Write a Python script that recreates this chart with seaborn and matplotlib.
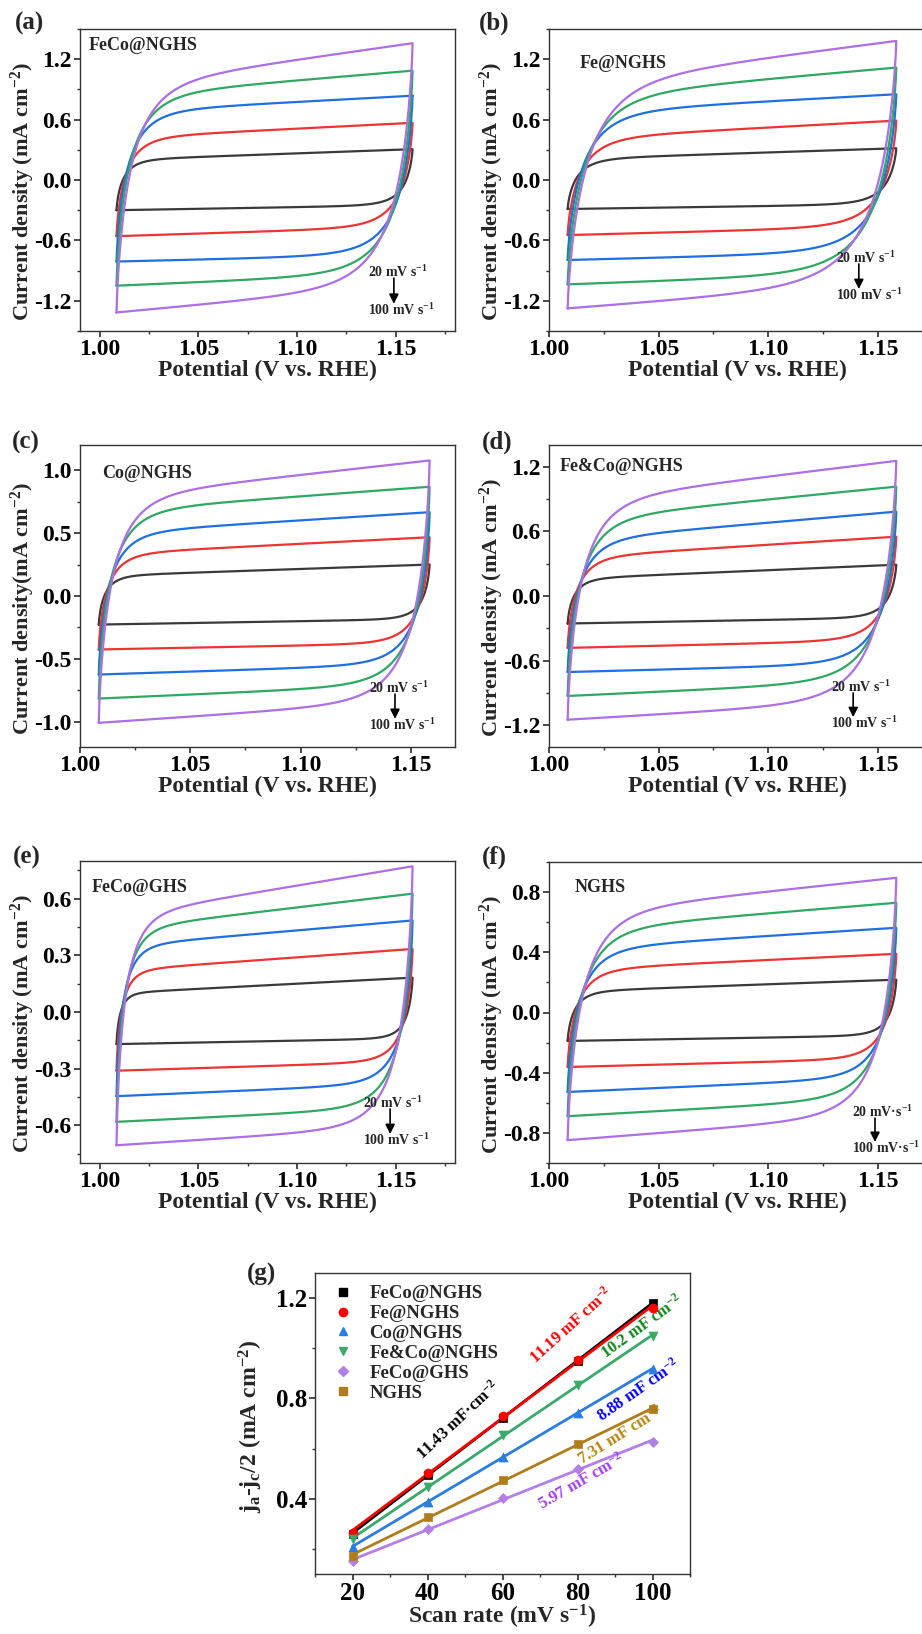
import numpy as np
import pandas as pd
import matplotlib
matplotlib.use("Agg")
import matplotlib.pyplot as plt
from matplotlib.ticker import MultipleLocator, FormatStrFormatter
from matplotlib.lines import Line2D
import seaborn as sns

# ---------------------------------------------------------------- data
scan_rates = [20, 40, 60, 80, 100]          # mV s-1
cv_colors = ["#3a3a3a", "#ee3333", "#1f6fe0", "#2ea862", "#ad6ee6"]

# potential window of the CV sweeps (V vs. RHE)
E_LO, E_HI = 1.0085, 1.1585

# anodic / cathodic double-layer currents (mA cm-2) at the two ends of the
# window, plus the relaxation widths (V) of the forward / reverse sweep at 100 mV s-1
a_ox_lo = [0.20, 0.42, 0.68, 0.84, 0.94]
a_ox_hi = [0.306, 0.568, 0.837, 1.086, 1.359]
a_red_lo = [-0.30, -0.558, -0.81, -1.05, -1.316]
a_red_hi = [-0.25, -0.465, -0.74, -0.926, -1.046]
a_relax = (0.0075, 0.0090)

b_ox_lo = [0.209, 0.414, 0.673, 0.83, 0.96]
b_ox_hi = [0.315, 0.59, 0.852, 1.117, 1.382]
b_red_lo = [-0.288, -0.547, -0.795, -1.037, -1.276]
b_red_hi = [-0.24, -0.462, -0.712, -0.921, -1.025]
b_relax = (0.0090, 0.0100)

c_ox_lo = [0.16, 0.333, 0.50, 0.674, 0.784]
c_ox_hi = [0.25, 0.467, 0.666, 0.868, 1.077]
c_red_lo = [-0.227, -0.425, -0.624, -0.815, -1.008]
c_red_hi = [-0.183, -0.374, -0.54, -0.70, -0.83]
c_relax = (0.0062, 0.0070)

d_ox_lo = [0.16, 0.358, 0.52, 0.71, 0.88]
d_ox_hi = [0.29, 0.55, 0.782, 1.014, 1.253]
d_red_lo = [-0.255, -0.481, -0.705, -0.927, -1.147]
d_red_hi = [-0.20, -0.41, -0.625, -0.786, -0.97]
d_relax = (0.0066, 0.0080)

e_ox_lo = [0.10, 0.22, 0.35, 0.44, 0.51]
e_ox_hi = [0.182, 0.334, 0.485, 0.627, 0.772]
e_red_lo = [-0.17, -0.311, -0.446, -0.582, -0.706]
e_red_hi = [-0.14, -0.262, -0.378, -0.505, -0.605]
e_relax = (0.0045, 0.0065)

f_ox_lo = [0.14, 0.285, 0.424, 0.55, 0.663]
f_ox_hi = [0.218, 0.39, 0.563, 0.729, 0.895]
f_red_lo = [-0.189, -0.362, -0.528, -0.689, -0.848]
f_red_hi = [-0.152, -0.306, -0.432, -0.567, -0.68]
f_relax = (0.0070, 0.0070)

# capacitive current vs scan rate (panel g)
cdl_samples = ["FeCo@NGHS", "Fe@NGHS", "Co@NGHS", "Fe&Co@NGHS", "FeCo@GHS", "NGHS"]
cdl_rates = [20, 40, 60, 80, 100]
cdl_feco_nghs = [0.261, 0.495, 0.722, 0.950, 1.180]
cdl_fe_nghs = [0.265, 0.502, 0.730, 0.952, 1.160]
cdl_co_nghs = [0.207, 0.389, 0.568, 0.742, 0.917]
cdl_feco_nghs_mix = [0.238, 0.446, 0.655, 0.854, 1.047]
cdl_feco_ghs = [0.150, 0.281, 0.402, 0.517, 0.628]
cdl_nghs = [0.172, 0.327, 0.473, 0.617, 0.757]
cdl_slopes = ["11.43 mF\u00b7cm$^{-2}$", "11.19 mF cm$^{-2}$", "8.88 mF cm$^{-2}$",
              "10.2 mF cm$^{-2}$", "5.97 mF cm$^{-2}$", "7.31 mF cm$^{-2}$"]

# ---------------------------------------------------------------- style
sns.set_theme(style="ticks")
plt.rcParams.update({
    "font.family": ["Liberation Serif", "DejaVu Serif"],
    "font.weight": "bold",
    "axes.labelweight": "bold",
    "mathtext.fontset": "custom",
    "mathtext.rm": "Liberation Serif:bold",
    "mathtext.it": "Liberation Serif:italic:bold",
    "mathtext.bf": "Liberation Serif:bold",
    "mathtext.default": "rm",
    "axes.unicode_minus": False,
    "axes.edgecolor": "#333333",
    "axes.linewidth": 1.0,
    "xtick.color": "#333333",
    "ytick.color": "#333333",
    "xtick.labelcolor": "black",
    "ytick.labelcolor": "black",
    "xtick.direction": "out",
    "ytick.direction": "out",
    "xtick.major.size": 4,
    "ytick.major.size": 4,
    "xtick.minor.size": 2.5,
    "ytick.minor.size": 2.5,
})

W, H = 922, 1634
fig = plt.figure(figsize=(W / 100, H / 100), dpi=100)


def axes_px(left, top, right, bottom):
    return fig.add_axes([left / W, 1 - bottom / H, (right - left) / W, (bottom - top) / H])


BETA = 0.77      # stretching exponent of the distributed RC response
RATE_EXP = 0.45  # growth of the relaxation width with scan rate


def relax(dE, w):
    return np.exp(-np.power(dE / w, BETA))


def cv_frame(ox_lo, ox_hi, red_lo, red_hi, widths):
    """Closed CV loops from double-layer currents and a distributed RC response."""
    rows = []
    for k, v in enumerate(scan_rates):
        scale = (v / 100) ** RATE_EXP
        wf, wr = widths[0] * scale, widths[1] * scale
        E_f = np.linspace(E_LO, E_HI, 600)
        top = ox_lo[k] + (ox_hi[k] - ox_lo[k]) * (E_f - E_LO) / (E_HI - E_LO)
        j_f = top - (top[0] - red_lo[k]) * relax(E_f - E_LO, wf)
        E_r = E_f[::-1]
        bot = red_lo[k] + (red_hi[k] - red_lo[k]) * (E_r - E_LO) / (E_HI - E_LO)
        j_r = bot + (j_f[-1] - bot[0]) * relax(E_HI - E_r, wr)
        E = np.concatenate([E_f, E_r])
        j = np.concatenate([j_f, j_r])
        rows.append(pd.DataFrame({"E": E, "j": j, "rate": v}))
    return pd.concat(rows, ignore_index=True)


cv_panels = [
    # tag, sample, box(px), xlim, ylim, ytick step, data, ylabel, label pos, arrow pos, unit text
    ("(a)", "FeCo@NGHS", (80, 29, 455, 331), (0.99, 1.18), (-1.5, 1.5), 0.6,
     (a_ox_lo, a_ox_hi, a_red_lo, a_red_hi, a_relax),
     "Current density (mA cm$^{-2}$)", (0.024, 0.947), (0.768, 0.195, 0.07, 0.837), "mV s"),
    ("(b)", "Fe@NGHS", (549, 29, 925, 331), (1.00, 1.1716), (-1.5, 1.5), 0.6,
     (b_ox_lo, b_ox_hi, b_red_lo, b_red_hi, b_relax),
     "Current density (mA cm$^{-2}$)", (0.082, 0.887), (0.763, 0.242, 0.119, 0.824), "mV s"),
    ("(c)", "Co@NGHS", (80, 445, 455, 747), (1.00, 1.17), (-1.2, 1.2), 0.5,
     (c_ox_lo, c_ox_hi, c_red_lo, c_red_hi, c_relax),
     "Current density(mA cm$^{-2}$)", (0.059, 0.907), (0.77, 0.195, 0.073, 0.84), "mV s"),
    ("(d)", "Fe&Co@NGHS", (549, 445, 925, 747), (1.00, 1.1716), (-1.4, 1.4), 0.6,
     (d_ox_lo, d_ox_hi, d_red_lo, d_red_hi, d_relax),
     "Current density (mA cm$^{-2}$)", (0.029, 0.930), (0.75, 0.199, 0.079, 0.809), "mV s"),
    ("(e)", "FeCo@GHS", (80, 861, 455, 1163), (0.99, 1.18), (-0.8, 0.8), 0.3,
     (e_ox_lo, e_ox_hi, e_red_lo, e_red_hi, e_relax),
     "Current density (mA cm$^{-2}$)", (0.032, 0.911), (0.755, 0.199, 0.076, 0.827), "mV s"),
    ("(f)", "NGHS", (549, 862, 925, 1163), (1.00, 1.1716), (-1.0, 1.0), 0.4,
     (f_ox_lo, f_ox_hi, f_red_lo, f_red_hi, f_relax),
     "Current density (mA cm$^{-2}$)", (0.069, 0.914), (0.806, 0.169, 0.05, 0.867), "mV\u00b7s"),
]

tag_pos = {"(a)": (29, 23), "(b)": (494, 23), "(c)": (26, 442), "(d)": (497, 442),
           "(e)": (27, 857), "(f)": (494, 857), "(g)": (261, 1274)}

TICK_FS = 17
LABEL_FS = 17

for tag, sample, box, xlim, ylim, ystep, series, ylabel, spos, apos, unit in cv_panels:
    ax = axes_px(*box)
    df = cv_frame(*series)
    sns.lineplot(data=df, x="E", y="j", hue="rate", palette=cv_colors, sort=False,
                 estimator=None, units="rate", lw=1.6, legend=False, ax=ax)
    ax.set_xlim(*xlim)
    ax.set_ylim(*ylim)
    ax.xaxis.set_major_locator(MultipleLocator(0.05))
    ax.xaxis.set_minor_locator(MultipleLocator(0.025))
    ax.xaxis.set_major_formatter(FormatStrFormatter("%.2f"))
    ax.yaxis.set_major_locator(MultipleLocator(ystep))
    ax.yaxis.set_minor_locator(MultipleLocator(ystep / 2))
    ax.yaxis.set_major_formatter(FormatStrFormatter("%.1f"))
    ax.tick_params(labelsize=TICK_FS, pad=2)
    ax.set_xlabel("Potential (V vs. RHE)", fontsize=LABEL_FS, labelpad=0)
    ax.set_ylabel(ylabel, fontsize=16, va="center")
    ax.yaxis.set_label_coords(-0.153, 0.46)
    ax.text(spos[0], spos[1], sample, transform=ax.transAxes, fontsize=13,
            ha="left", va="center")
    tx, ty_top, ty_bot, arx = apos
    ax.text(tx, ty_top, "20 " + unit + "$^{-1}$", transform=ax.transAxes,
            fontsize=10, ha="left", va="center")
    ax.text(tx, ty_bot, "100 " + unit + "$^{-1}$", transform=ax.transAxes,
            fontsize=10, ha="left", va="center")
    ax.annotate("", xy=(arx, ty_bot + 0.02), xytext=(arx, ty_top - 0.02),
                xycoords="axes fraction",
                arrowprops=dict(arrowstyle="-|>", color="black", lw=1.2,
                                mutation_scale=14, shrinkA=0, shrinkB=0))

for tag, (px, py) in tag_pos.items():
    fig.text(px / W, 1 - py / H, tag, fontsize=18, ha="center", va="center")

# ---------------------------------------------------------------- panel (g)
axg = axes_px(315, 1273, 690, 1574)
g_values = [cdl_feco_nghs, cdl_fe_nghs, cdl_co_nghs, cdl_feco_nghs_mix, cdl_feco_ghs, cdl_nghs]
g_colors = ["#000000", "#ff0000", "#2a7de1", "#3aaa6a", "#b27fe6", "#b07d1c"]
g_markers = ["s", "o", "^", "v", "D", "s"]
g_msize = [38, 42, 42, 42, 26, 38]
g_text_colors = ["#000000", "#ff0000", "#0000ff", "#0a8a14", "#a040f0", "#b8860b"]
# least-squares fit line for every sample, Fe@NGHS drawn above FeCo@NGHS
for name, vals, col in zip(cdl_samples, g_values, g_colors):
    sns.regplot(x=np.array(cdl_rates), y=np.array(vals), ax=axg, scatter=False, ci=None,
                color=col, line_kws=dict(lw=2.0))
for name, vals, col, mk, ms in zip(cdl_samples, g_values, g_colors, g_markers, g_msize):
    sns.scatterplot(x=cdl_rates, y=vals, ax=axg, color=col, marker=mk, s=ms,
                    edgecolor=col, linewidth=0.5, zorder=5)

axg.set_xlim(10, 110)
axg.set_ylim(0.1, 1.3)
axg.xaxis.set_major_locator(MultipleLocator(20))
axg.xaxis.set_minor_locator(MultipleLocator(10))
axg.yaxis.set_major_locator(MultipleLocator(0.4))
axg.yaxis.set_minor_locator(MultipleLocator(0.2))
axg.yaxis.set_major_formatter(FormatStrFormatter("%.1f"))
axg.tick_params(labelsize=18, pad=1.5)
axg.set_xlabel("Scan rate (mV s$^{-1}$)", fontsize=LABEL_FS, labelpad=-1)
axg.set_ylabel("j$_\\mathrm{a}$-j$_\\mathrm{c}$/2 (mA cm$^{-2}$)", fontsize=LABEL_FS, va="center")
axg.yaxis.set_label_coords(-0.172, 0.49)

handles = [Line2D([], [], ls="none", marker=mk, color=col, markersize=6 if mk != "D" else 5)
           for col, mk in zip(g_colors, g_markers)]
axg.legend(handles, cdl_samples, loc="upper left", bbox_to_anchor=(0.03, 0.985),
           frameon=False, fontsize=13.5, handletextpad=0.9, labelspacing=0.15,
           borderaxespad=0, handlelength=1.0)

# slope labels: (text index, x, y, rotation)
slope_pos = [(0, 48.2, 0.714, 43), (1, 78.4, 1.092, 42), (3, 97.1, 1.085, 36),
             (2, 96.2, 0.833, 35), (5, 91.3, 0.654, 32), (4, 81.1, 0.468, 30)]
for idx, x, y, rot in slope_pos:
    axg.text(x, y, cdl_slopes[idx], color=g_text_colors[idx], fontsize=12,
             rotation=rot, ha="center", va="center", rotation_mode="anchor")

fig.savefig("out.png", dpi=100)
